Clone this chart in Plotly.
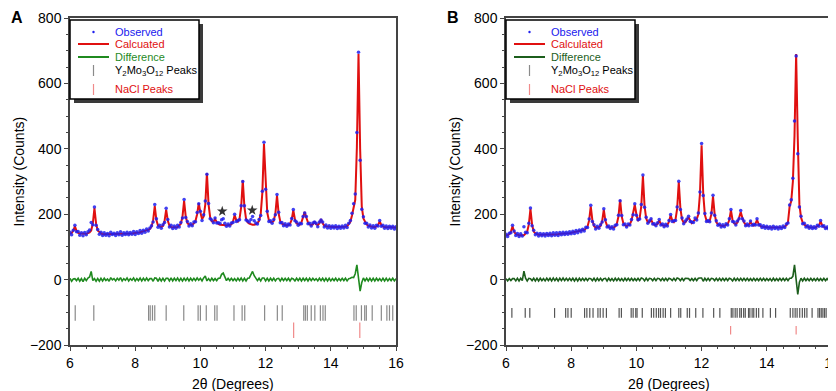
import plotly.graph_objects as go

# ---------------- data ----------------
# step-scan grid: 6.00 ... 16.00 deg 2-theta, step 0.05
two_theta_start = 6.0
two_theta_step = 0.05
n_points = 201
two_theta = [round(two_theta_start + two_theta_step * i, 2) for i in range(n_points)]

calc_A = [141,142,149,163,149,143,141,140,140,140,
          140,141,144,150,171,219,171,150,144,141,
          139,139,139,139,139,139,139,139,139,139,
          139,140,140,140,140,140,141,141,141,142,
          142,143,144,145,146,147,148,150,152,155,
          162,181,225,182,165,162,161,164,179,214,
          180,165,161,160,160,160,161,165,171,192,
          241,193,173,168,167,168,172,180,200,234,
          205,185,193,229,326,230,190,178,177,185,
          176,170,168,167,166,166,166,166,167,169,
          178,197,182,177,186,221,304,222,186,175,
          171,169,168,168,169,173,180,200,265,415,
          280,205,182,176,175,180,202,257,202,178,
          171,168,167,166,166,171,183,212,184,172,
          169,168,175,189,207,189,175,168,167,169,
          178,169,166,172,185,172,165,163,162,161,
          161,161,161,161,160,160,160,160,161,162,
          163,169,177,196,226,244,405,690,400,224,
          187,176,168,165,163,162,161,161,162,167,
          178,167,162,161,160,160,160,160,159,159,
          159]

obs_A = [145,137,151,166,146,147,136,143,134,144,
         137,146,152,175,168,222,166,153,139,145,
         135,143,136,141,134,145,138,142,135,143,
         137,146,136,143,138,145,137,144,139,147,
         138,146,141,150,142,151,145,155,149,158,
         165,176,230,186,160,166,157,168,175,218,
         184,161,166,156,164,157,166,161,175,188,
         245,190,178,164,171,165,176,177,205,232,
         209,181,198,240,322,233,186,182,174,188,
         173,174,172,183,186,172,163,170,164,173,
         175,200,178,181,183,226,300,226,182,179,
         176,184,193,180,173,170,184,196,270,420,
         276,209,178,180,172,184,198,260,206,174,
         175,165,171,163,170,167,187,214,180,176,
         166,172,171,193,204,193,171,172,164,173,
         176,172,162,176,182,176,161,167,158,165,
         157,164,158,165,156,163,157,164,158,166,
         159,172,181,203,232,262,450,695,365,215,
         192,172,172,161,167,158,165,157,166,164,
         181,163,166,157,164,156,163,157,163,155,
         162]

calc_B = [136,136,139,146,163,146,139,137,136,136,
          136,136,141,147,168,216,168,147,141,138,
          137,137,137,137,137,137,138,138,138,138,
          139,139,139,140,140,140,141,141,142,142,
          143,144,145,146,147,148,149,150,152,156,
          162,181,224,181,164,159,159,160,164,179,
          214,179,165,160,159,159,159,162,171,193,
          244,193,172,166,164,166,170,180,201,229,
          200,179,188,225,317,225,187,175,176,183,
          173,167,168,170,181,170,166,165,165,167,
          177,197,181,176,184,217,298,217,184,174,
          175,182,191,181,173,178,184,185,200,263,
          411,262,198,181,177,180,200,255,200,176,
          169,166,164,164,165,167,170,182,212,182,
          172,170,175,189,207,189,175,168,166,168,
          176,169,165,170,183,170,164,162,161,160,
          160,159,159,159,159,159,158,158,158,159,
          160,162,166,176,224,240,300,440,690,430,
          230,190,175,168,164,162,160,159,159,159,
          160,162,166,178,166,161,159,158,158,158,
          158]

obs_B = [139,132,142,143,166,149,135,141,132,140,
         133,162,145,143,172,219,165,151,137,142,
         133,141,134,140,133,141,135,142,134,143,
         136,143,135,144,137,145,138,145,139,146,
         140,148,141,150,143,152,146,154,149,160,
         159,185,227,178,168,155,163,157,168,176,
         217,183,161,164,156,162,155,166,168,197,
         241,196,168,170,161,170,167,184,198,232,
         197,183,185,230,320,221,191,172,180,186,
         170,171,165,174,184,167,170,162,169,164,
         181,199,178,180,181,222,301,214,188,171,
         179,185,194,178,176,175,188,182,204,268,
         416,257,202,178,181,177,204,258,197,180,
         166,170,161,168,162,171,167,186,214,178,
         176,167,179,186,211,186,179,165,170,165,
         179,166,169,167,186,167,168,159,165,157,
         163,156,162,155,163,156,161,155,162,156,
         164,159,170,173,228,244,310,485,684,385,
         222,194,171,172,161,165,157,163,156,162,
         157,166,163,181,163,165,156,161,155,161,
         155]

# reflection (tick) positions
y2mo3o12_peaks_A = [6.16, 6.73, 8.41, 8.46, 8.53, 8.60, 8.95, 9.49, 9.93, 10.00,
                    10.18, 10.44, 10.51, 11.03, 11.28, 11.36, 11.97, 12.36, 12.51,
                    13.17, 13.22, 13.28, 13.40, 13.51, 13.68, 13.76, 13.83, 14.71,
                    14.78, 14.94, 15.04, 15.09, 15.27, 15.55, 15.72, 15.80, 15.90]
nacl_peaks_A = [12.86, 14.89]

y2mo3o12_peaks_B = [6.18, 6.59, 6.73, 7.49, 7.83, 7.90, 8.00, 8.41, 8.48, 8.57, 8.67,
                    8.82, 8.89, 8.98, 9.08, 9.47, 9.54, 9.84, 9.90, 9.98, 10.02, 10.18,
                    10.46, 10.53, 10.61, 10.68, 10.74, 10.82, 10.89, 11.05, 11.30, 11.36,
                    11.56, 11.63, 11.82, 12.04, 12.37, 12.56, 12.91, 12.96, 13.03, 13.09,
                    13.17, 13.22, 13.29, 13.34, 13.44, 13.48, 13.55, 13.60, 13.68, 13.75,
                    13.88, 14.11, 14.27, 14.72, 14.80, 14.87, 14.93, 15.01, 15.09, 15.16,
                    15.23, 15.39, 15.57, 15.62, 15.67, 15.72, 15.77, 15.82, 15.92]
nacl_peaks_B = [12.89, 14.90]

# impurity markers (stars) in panel A
star_x_A = [10.67, 11.59]
star_y_A = [209, 212]

x_tick_vals = [6, 8, 10, 12, 14, 16]
y_tick_vals = [-200, 0, 200, 400, 600, 800]

# difference curves (observed - calculated)
diff_A = [o - c for o, c in zip(obs_A, calc_A)]
diff_B = [o - c for o, c in zip(obs_B, calc_B)]

# ---------------- styling ----------------
W, H = 836, 391
FONT = "Liberation Sans, Arial, sans-serif"
BLUE = "#2020ee"
RED = "#e01010"
GREEN_A = "#1f8a1f"
GREEN_B = "#1c5e1c"
ROW_Y2 = -102
ROW_NACL = -155


def fx(p):
    return p / W


def fy(p):
    return 1 - p / H


fig = go.Figure()

panels = [
    dict(xa="x", ya="y", calc=calc_A, obs=obs_A, diff=diff_A, green=GREEN_A,
         y2=y2mo3o12_peaks_A, nacl=nacl_peaks_A, y2col="#8a8a8a", y2size=11,
         naclsize=11),
    dict(xa="x2", ya="y2", calc=calc_B, obs=obs_B, diff=diff_B, green=GREEN_B,
         y2=y2mo3o12_peaks_B, nacl=nacl_peaks_B, y2col="#555555", y2size=7,
         naclsize=6),
]

for p in panels:
    fig.add_trace(go.Scatter(x=two_theta, y=p["calc"], mode="lines",
                             line=dict(color=RED, width=2), xaxis=p["xa"], yaxis=p["ya"]))
    fig.add_trace(go.Scatter(x=two_theta, y=p["obs"], mode="markers",
                             marker=dict(color=BLUE, size=3.5, opacity=0.85),
                             xaxis=p["xa"], yaxis=p["ya"]))
    fig.add_trace(go.Scatter(x=two_theta, y=p["diff"], mode="lines",
                             line=dict(color=p["green"], width=1.6),
                             xaxis=p["xa"], yaxis=p["ya"]))
    fig.add_trace(go.Scatter(x=p["y2"], y=[ROW_Y2] * len(p["y2"]), mode="markers",
                             marker=dict(symbol="line-ns", size=p["y2size"],
                                         line=dict(color=p["y2col"], width=1.2)),
                             xaxis=p["xa"], yaxis=p["ya"]))
    fig.add_trace(go.Scatter(x=p["nacl"], y=[ROW_NACL] * len(p["nacl"]), mode="markers",
                             marker=dict(symbol="line-ns", size=p["naclsize"],
                                         line=dict(color="#f08a8a", width=1.2)),
                             xaxis=p["xa"], yaxis=p["ya"]))

fig.add_trace(go.Scatter(x=star_x_A, y=star_y_A, mode="markers",
                         marker=dict(symbol="star", size=8, color="#333333"),
                         xaxis="x", yaxis="y"))

axis_common = dict(showgrid=False, zeroline=False, showline=True, mirror=True,
                   linecolor="#444444", linewidth=1.5, ticks="outside", ticklen=4,
                   tickwidth=1.2, tickcolor="#444444",
                   tickfont=dict(family=FONT, size=14, color="black"),
                   automargin=False)

# plot areas (pixels): A x 62..388, B x 498..824, y 10..337
xA = [fx(62), fx(388)]
xB = [fx(498), fx(824)]
ydom = [fy(337), fy(10)]

fig.update_layout(
    width=W, height=H, margin=dict(l=0, r=0, t=0, b=0),
    paper_bgcolor="white", plot_bgcolor="white", showlegend=False,
    xaxis=dict(domain=xA, range=[6, 16], tickvals=x_tick_vals, anchor="y",
               minor=dict(dtick=0.5, ticks="outside", ticklen=2.5, tickcolor="#444444"),
               **axis_common),
    yaxis=dict(domain=ydom, range=[-200, 800], tickvals=y_tick_vals, anchor="x",
               minor=dict(dtick=50, ticks="outside", ticklen=2.5, tickcolor="#444444"),
               **axis_common),
    xaxis2=dict(domain=xB, range=[6, 16], tickvals=x_tick_vals, anchor="y2",
                minor=dict(dtick=0.5, ticks="outside", ticklen=2.5, tickcolor="#444444"),
                **axis_common),
    yaxis2=dict(domain=ydom, range=[-200, 800], tickvals=y_tick_vals, anchor="x2",
                minor=dict(dtick=50, ticks="outside", ticklen=2.5, tickcolor="#444444"),
                **axis_common),
)

shapes = []
annotations = []


def txt(x, y, text, size=14, color="black", bold=False, angle=0, xanchor="center"):
    annotations.append(dict(
        x=fx(x), y=fy(y), xref="paper", yref="paper", text=text, showarrow=False,
        textangle=angle, xanchor=xanchor, yanchor="middle",
        font=dict(family=FONT, size=size, color=color,
                  weight="bold" if bold else "normal")))


# axis titles and panel letters
for left, right, letter in [(62, 388, "A"), (498, 824, "B")]:
    txt(left - 51.5, 164, "Intensity (Counts)", angle=-90)
    txt((left + right) / 2, 376, "2θ (Degrees)")
    txt(left - 53, 10, letter, size=16, bold=True)


def legend(x0, calc_label, green):
    x1 = x0 + 129
    shapes.append(dict(type="rect", xref="paper", yref="paper",
                       x0=fx(x0 + 4), x1=fx(x1 + 4), y0=fy(95), y1=fy(16),
                       fillcolor="#3a3a3a", line=dict(width=0)))
    shapes.append(dict(type="rect", xref="paper", yref="paper",
                       x0=fx(x0), x1=fx(x1), y0=fy(91), y1=fy(12),
                       fillcolor="white", line=dict(color="black", width=1.5)))
    cx = x0 + 23.5
    shapes.append(dict(type="circle", xref="paper", yref="paper",
                       x0=fx(cx - 1.2), x1=fx(cx + 1.2), y0=fy(25.2), y1=fy(22.8),
                       fillcolor=BLUE, line=dict(width=0)))
    shapes.append(dict(type="line", xref="paper", yref="paper",
                       x0=fx(x0 + 8), x1=fx(x0 + 39), y0=fy(36), y1=fy(36),
                       line=dict(color=RED, width=2)))
    shapes.append(dict(type="line", xref="paper", yref="paper",
                       x0=fx(x0 + 8), x1=fx(x0 + 39), y0=fy(49), y1=fy(49),
                       line=dict(color=green, width=2)))
    shapes.append(dict(type="line", xref="paper", yref="paper",
                       x0=fx(cx), x1=fx(cx), y0=fy(57), y1=fy(68),
                       line=dict(color="#8a8a8a", width=1.2)))
    shapes.append(dict(type="line", xref="paper", yref="paper",
                       x0=fx(cx), x1=fx(cx), y0=fy(76), y1=fy(87),
                       line=dict(color="#f08a8a", width=1.2)))
    tx = x0 + 43
    txt(tx, 24, "Observed", size=11, color=BLUE, xanchor="left")
    txt(tx, 36, calc_label, size=11, color=RED, xanchor="left")
    txt(tx, 49, "Difference", size=11, color=green, xanchor="left")
    txt(tx, 63, "Y<sub>2</sub>Mo<sub>3</sub>O<sub>12</sub> Peaks", size=11,
        color="black", xanchor="left")
    txt(tx, 81, "NaCl Peaks", size=11, color=RED, xanchor="left")


legend(62, "Calcuated", GREEN_A)
legend(498, "Calculated", GREEN_B)

fig.update_layout(shapes=shapes, annotations=annotations)
fig.write_html("out.html")
